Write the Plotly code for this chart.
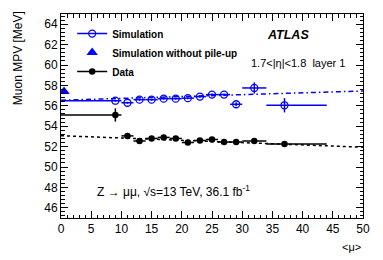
import plotly.graph_objects as go

# ---- data ----
mu = [9, 11, 13, 15, 17, 19, 21, 23, 25, 27, 29, 32, 37]
mu_err_minus = [9, 1, 1, 1, 1, 1, 1, 1, 1, 1, 1, 2, 3]
mu_err_plus = [1, 1, 1, 1, 1, 1, 1, 1, 1, 1, 1, 2, 7]
sim_mpv = [56.5, 56.3, 56.6, 56.6, 56.7, 56.7, 56.75, 56.9, 57.1, 57.1, 56.15, 57.75, 56.05]
sim_err = [0.1, 0.1, 0.1, 0.1, 0.1, 0.1, 0.1, 0.1, 0.1, 0.1, 0.2, 0.55, 0.7]
data_mpv = [55.1, 53.05, 52.55, 52.8, 52.9, 52.8, 52.4, 52.6, 52.7, 52.45, 52.45, 52.55, 52.25]
data_err = [0.65, 0.12, 0.12, 0.12, 0.12, 0.12, 0.12, 0.12, 0.12, 0.12, 0.12, 0.12, 0.12]
nopu_mu = [0.5]
nopu_mpv = [57.4]
fit_x = [0, 50]
sim_fit = [56.55, 57.45]
data_fit = [53.07, 51.94]

BLUE = "#0000ff"
FONT = "Liberation Sans, Arial, Helvetica, sans-serif"

fig = go.Figure()

# fit lines
fig.add_trace(go.Scatter(x=fit_x, y=sim_fit, mode="lines",
                         line=dict(color=BLUE, width=1.5, dash="5px,3px,1.5px,3px"),
                         showlegend=False, hoverinfo="skip"))
fig.add_trace(go.Scatter(x=fit_x, y=data_fit, mode="lines",
                         line=dict(color="black", width=1.5, dash="dot"),
                         showlegend=False, hoverinfo="skip"))

# simulation points
fig.add_trace(go.Scatter(
    x=mu, y=sim_mpv, mode="markers",
    marker=dict(symbol="circle-open", size=7, color=BLUE, line=dict(width=1.3, color=BLUE)),
    error_x=dict(type="data", symmetric=False, array=mu_err_plus, arrayminus=mu_err_minus,
                 color=BLUE, thickness=1.5, width=0),
    error_y=dict(type="data", array=sim_err, color=BLUE, thickness=1.5, width=0),
    showlegend=False))

# data points
fig.add_trace(go.Scatter(
    x=mu, y=data_mpv, mode="markers",
    marker=dict(symbol="circle", size=6.5, color="black"),
    error_x=dict(type="data", symmetric=False, array=mu_err_plus, arrayminus=mu_err_minus,
                 color="black", thickness=1.5, width=0),
    error_y=dict(type="data", array=data_err, color="black", thickness=1.5, width=0),
    showlegend=False))

# simulation without pile-up
fig.add_trace(go.Scatter(x=nopu_mu, y=nopu_mpv, mode="markers",
                         marker=dict(symbol="triangle-up", size=10, color=BLUE),
                         showlegend=False))

# legend entries
fig.add_trace(go.Scatter(x=[None], y=[None], mode="lines+markers", name="Simulation",
                         line=dict(color=BLUE, width=1.5),
                         marker=dict(symbol="circle-open", size=7, color=BLUE,
                                     line=dict(width=1.3, color=BLUE))))
fig.add_trace(go.Scatter(x=[None], y=[None], mode="markers", name="Simulation without pile-up",
                         marker=dict(symbol="triangle-up", size=10, color=BLUE)))
fig.add_trace(go.Scatter(x=[None], y=[None], mode="lines+markers", name="Data",
                         line=dict(color="black", width=1.5),
                         marker=dict(symbol="circle", size=6.5, color="black")))

axis_common = dict(
    showgrid=False, zeroline=False, showline=True, linecolor="black", linewidth=1,
    mirror="ticks", ticks="inside", ticklen=7, tickcolor="black", tickwidth=1,
    tickfont=dict(family=FONT, size=12, color="black"), automargin=False,
)

fig.update_xaxes(range=[0, 50], dtick=5, tick0=0,
                 minor=dict(dtick=1, ticks="inside", ticklen=3.5, tickcolor="black"),
                 **axis_common)
fig.update_yaxes(range=[45, 65], dtick=2, tick0=0,
                 minor=dict(dtick=0.4, ticks="inside", ticklen=3.5, tickcolor="black"),
                 **axis_common)

fig.update_layout(
    width=383, height=260,
    margin=dict(l=61, r=20, t=14, b=42),
    paper_bgcolor="white", plot_bgcolor="white",
    font=dict(family=FONT, color="black"),
    legend=dict(x=0.037, y=0.975, xanchor="left", yanchor="top",
                bgcolor="rgba(0,0,0,0)",
                font=dict(family=FONT, size=10, color="black", weight="bold"),
                itemwidth=30, tracegroupgap=0),
    annotations=[
        dict(text="<b><i>ATLAS</i></b>", x=0.75, y=0.897, xref="paper", yref="paper",
             showarrow=False, font=dict(family=FONT, size=12.5, color="black"),
             xanchor="center", yanchor="middle"),
        dict(text="1.7&lt;|η|&lt;1.8  layer 1", x=0.948, y=0.76, xref="paper", yref="paper",
             showarrow=False, font=dict(family=FONT, size=11, color="black"),
             xanchor="right", yanchor="middle"),
        dict(text="Z → μμ, √s=13 TeV, 36.1 fb<sup>-1</sup>", x=0.112, y=0.134,
             xref="paper", yref="paper",
             showarrow=False, font=dict(family=FONT, size=12, color="black"),
             xanchor="left", yanchor="middle"),
        dict(text="&lt;μ&gt;", x=1.0, y=-0.105, xref="paper", yref="paper",
             showarrow=False, font=dict(family=FONT, size=11, color="black"),
             xanchor="right", yanchor="top"),
        dict(text="Muon MPV [MeV]", x=-0.14, y=0.782, xref="paper", yref="paper",
             textangle=-90, showarrow=False,
             font=dict(family=FONT, size=12, color="black"),
             xanchor="center", yanchor="middle"),
    ],
)

fig.write_html("out.html", config={"displayModeBar": False},
               post_script="document.body.style.margin='0';")
